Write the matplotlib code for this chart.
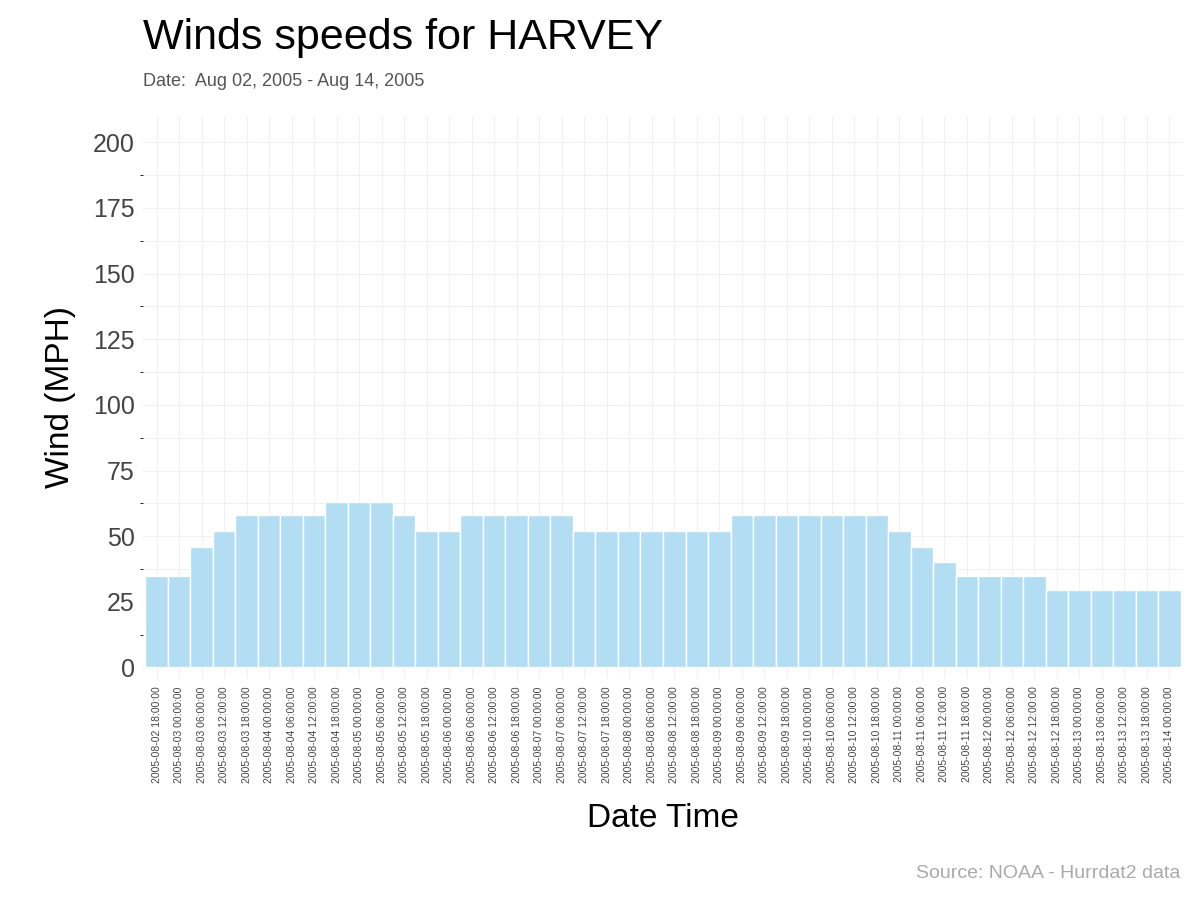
import matplotlib.pyplot as plt
import pandas as pd

plt.rcParams['font.family'] = ['Liberation Sans', 'DejaVu Sans']

# Data
times = pd.date_range("2005-08-02 18:00", "2005-08-14 00:00", freq="6h")
labels = [t.strftime("%Y-%m-%d %H:%M:%S") for t in times]
wind = [35, 35, 46, 52, 58, 58, 58, 58, 63, 63, 63, 58, 52, 52,
        58, 58, 58, 58, 58, 52, 52, 52, 52, 52, 52, 52,
        58, 58, 58, 58, 58, 58, 58, 52, 46, 40, 35, 35, 35, 35,
        29.5, 29.5, 29.5, 29.5, 29.5, 29.5]

fig = plt.figure(figsize=(12, 9), dpi=100)
ax = fig.add_axes([143/1200, 1-678/900, (1183-143)/1200, (678-116)/900])

x = range(len(wind))
ax.bar(x, wind, width=1.0, color="#b3ddf2", edgecolor="white", linewidth=1)
ax.set_xlim(-0.6, len(wind) - 0.4)
ax.set_ylim(-4, 210)
ax.set_yticks([0, 25, 50, 75, 100, 125, 150, 175, 200])
ax.set_xticks(list(x))
ax.set_xticklabels(labels, rotation=90, fontsize=7.5, color="#444444")
ax.tick_params(axis="y", labelsize=18, colors="#444444", length=0, pad=6)
ax.tick_params(axis="x", length=0, pad=6)
ax.set_yticks([12.5, 37.5, 62.5, 87.5, 112.5, 137.5, 162.5, 187.5], minor=True)
ax.grid(True, which="both", color="#f0f0f0", linewidth=0.8)
ax.set_axisbelow(True)
for s in ax.spines.values():
    s.set_visible(False)

ax.set_xlabel("Date Time", fontsize=24, labelpad=14)
ax.set_ylabel("Wind (MPH)", fontsize=24, labelpad=12)

fig.text(143/1200, 1-38/900, "Winds speeds for HARVEY", fontsize=31, va="center")
fig.text(143/1200, 1-82/900, "Date:  Aug 02, 2005 - Aug 14, 2005", fontsize=13,
         color="#555555", va="center")
fig.text(1180/1200, 1-873/900, "Source: NOAA - Hurrdat2 data", fontsize=14,
         color="#aaaaaa", ha="right", va="center")

fig.savefig("out.png", dpi=100)
